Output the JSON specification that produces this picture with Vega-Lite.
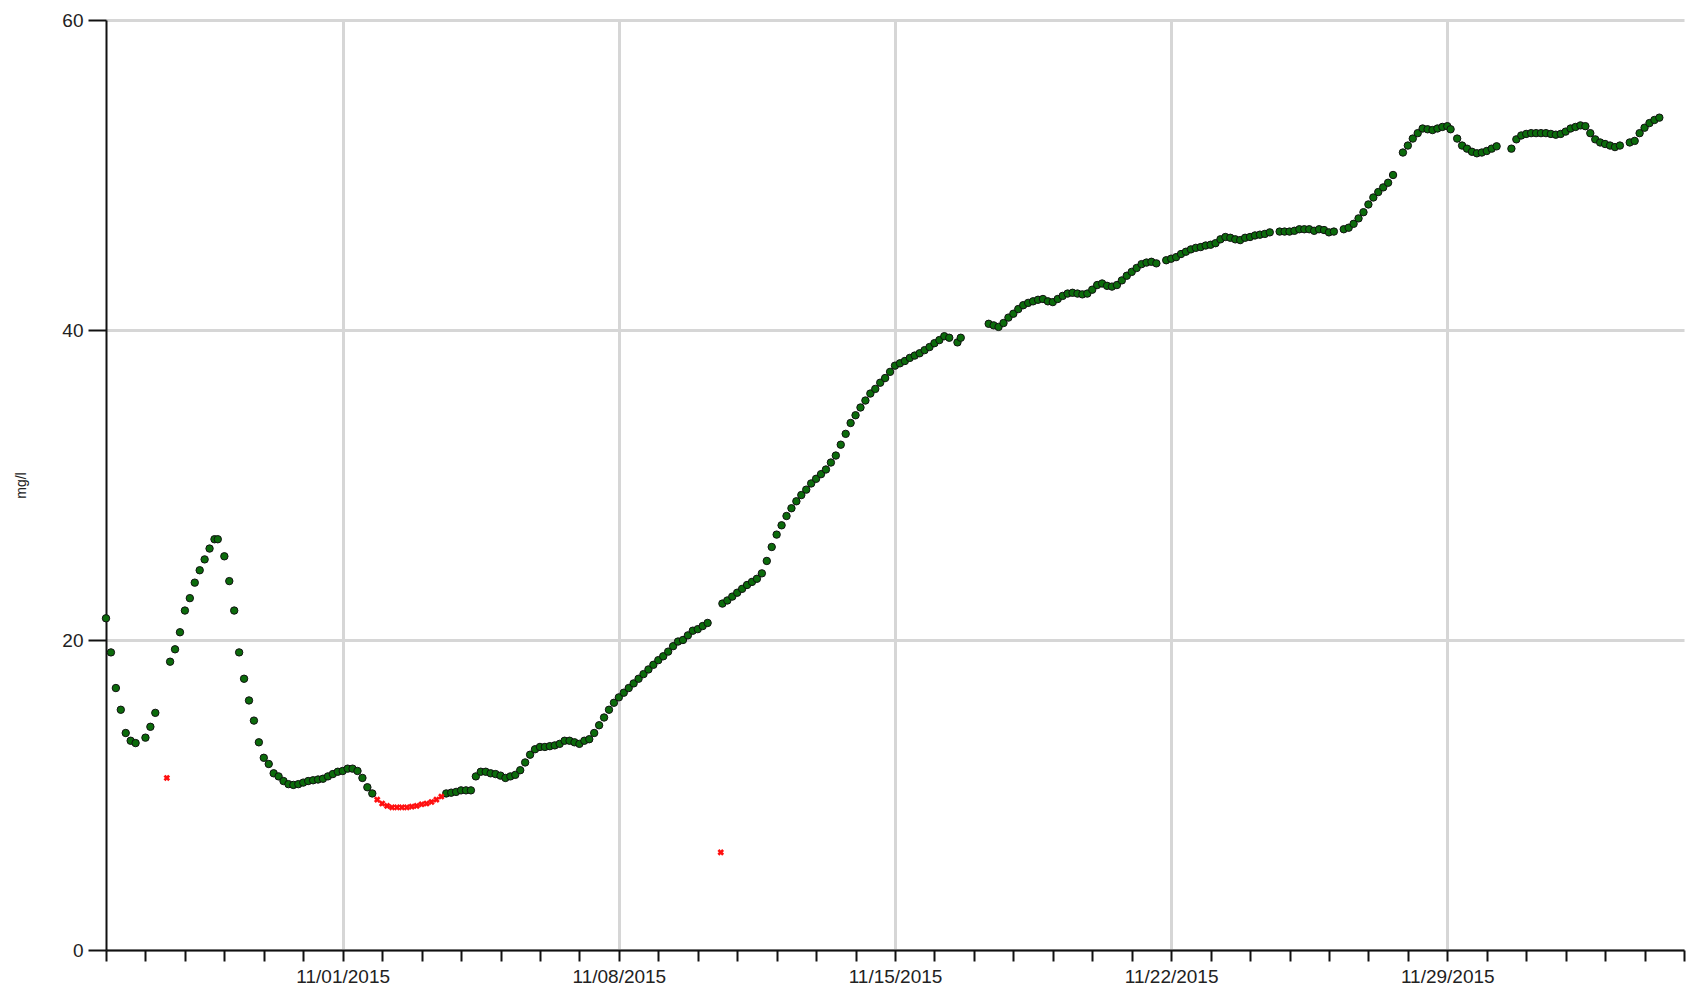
{
  "$schema": "https://vega.github.io/schema/vega-lite/v6.json",
  "autosize": {"type": "none"},
  "padding": {"left": 106, "top": 20, "right": 7, "bottom": 46},
  "width": 1578,
  "height": 930,
  "background": "white",
  "config": {"view": {"stroke": null}, "font": "Liberation Sans"},
  "data": {"values": [
    {"t":"2015-10-26T00:00","v":21.4,"q":"g"},{"t":"2015-10-26T03:00","v":19.2,"q":"g"},{"t":"2015-10-26T06:00","v":16.9,"q":"g"},{"t":"2015-10-26T09:00","v":15.5,"q":"g"},{"t":"2015-10-26T12:00","v":14.0,"q":"g"},{"t":"2015-10-26T15:00","v":13.5,"q":"g"},{"t":"2015-10-26T18:00","v":13.35,"q":"g"},
    {"t":"2015-10-27T00:00","v":13.7,"q":"g"},{"t":"2015-10-27T03:00","v":14.4,"q":"g"},{"t":"2015-10-27T06:00","v":15.3,"q":"g"},{"t":"2015-10-27T13:00","v":11.1,"q":"r"},{"t":"2015-10-27T15:00","v":18.6,"q":"g"},{"t":"2015-10-27T18:00","v":19.4,"q":"g"},{"t":"2015-10-27T21:00","v":20.5,"q":"g"},
    {"t":"2015-10-28T00:00","v":21.9,"q":"g"},{"t":"2015-10-28T03:00","v":22.7,"q":"g"},{"t":"2015-10-28T06:00","v":23.7,"q":"g"},{"t":"2015-10-28T09:00","v":24.5,"q":"g"},{"t":"2015-10-28T12:00","v":25.2,"q":"g"},{"t":"2015-10-28T15:00","v":25.9,"q":"g"},{"t":"2015-10-28T18:00","v":26.5,"q":"g"},{"t":"2015-10-28T20:00","v":26.5,"q":"g"},
    {"t":"2015-10-29T00:00","v":25.4,"q":"g"},{"t":"2015-10-29T03:00","v":23.8,"q":"g"},{"t":"2015-10-29T06:00","v":21.9,"q":"g"},{"t":"2015-10-29T09:00","v":19.2,"q":"g"},{"t":"2015-10-29T12:00","v":17.5,"q":"g"},{"t":"2015-10-29T15:00","v":16.1,"q":"g"},{"t":"2015-10-29T18:00","v":14.8,"q":"g"},{"t":"2015-10-29T21:00","v":13.4,"q":"g"},
    {"t":"2015-10-30T00:00","v":12.4,"q":"g"},{"t":"2015-10-30T03:00","v":12.0,"q":"g"},{"t":"2015-10-30T06:00","v":11.4,"q":"g"},{"t":"2015-10-30T09:00","v":11.2,"q":"g"},{"t":"2015-10-30T12:00","v":10.9,"q":"g"},{"t":"2015-10-30T15:00","v":10.7,"q":"g"},{"t":"2015-10-30T18:00","v":10.65,"q":"g"},{"t":"2015-10-30T21:00","v":10.7,"q":"g"},
    {"t":"2015-10-31T00:00","v":10.8,"q":"g"},{"t":"2015-10-31T03:00","v":10.9,"q":"g"},{"t":"2015-10-31T06:00","v":10.95,"q":"g"},{"t":"2015-10-31T09:00","v":11.0,"q":"g"},{"t":"2015-10-31T12:00","v":11.05,"q":"g"},{"t":"2015-10-31T15:00","v":11.2,"q":"g"},{"t":"2015-10-31T18:00","v":11.35,"q":"g"},{"t":"2015-10-31T21:00","v":11.5,"q":"g"},
    {"t":"2015-11-01T00:00","v":11.55,"q":"g"},{"t":"2015-11-01T03:00","v":11.7,"q":"g"},{"t":"2015-11-01T06:00","v":11.7,"q":"g"},{"t":"2015-11-01T09:00","v":11.55,"q":"g"},{"t":"2015-11-01T12:00","v":11.1,"q":"g"},{"t":"2015-11-01T15:00","v":10.5,"q":"g"},{"t":"2015-11-01T18:00","v":10.1,"q":"g"},{"t":"2015-11-01T21:00","v":9.7,"q":"r"},
    {"t":"2015-11-02T00:00","v":9.45,"q":"r"},{"t":"2015-11-02T03:00","v":9.3,"q":"r"},{"t":"2015-11-02T06:00","v":9.2,"q":"r"},{"t":"2015-11-02T09:00","v":9.2,"q":"r"},{"t":"2015-11-02T12:00","v":9.2,"q":"r"},{"t":"2015-11-02T15:00","v":9.2,"q":"r"},{"t":"2015-11-02T18:00","v":9.25,"q":"r"},{"t":"2015-11-02T21:00","v":9.3,"q":"r"},
    {"t":"2015-11-03T00:00","v":9.4,"q":"r"},{"t":"2015-11-03T03:00","v":9.45,"q":"r"},{"t":"2015-11-03T06:00","v":9.55,"q":"r"},{"t":"2015-11-03T09:00","v":9.7,"q":"r"},{"t":"2015-11-03T12:00","v":9.9,"q":"r"},{"t":"2015-11-03T15:00","v":10.1,"q":"g"},{"t":"2015-11-03T18:00","v":10.15,"q":"g"},{"t":"2015-11-03T21:00","v":10.2,"q":"g"},
    {"t":"2015-11-04T00:00","v":10.3,"q":"g"},{"t":"2015-11-04T03:00","v":10.3,"q":"g"},{"t":"2015-11-04T06:00","v":10.3,"q":"g"},{"t":"2015-11-04T09:00","v":11.2,"q":"g"},{"t":"2015-11-04T12:00","v":11.5,"q":"g"},{"t":"2015-11-04T15:00","v":11.5,"q":"g"},{"t":"2015-11-04T18:00","v":11.4,"q":"g"},{"t":"2015-11-04T21:00","v":11.35,"q":"g"},
    {"t":"2015-11-05T00:00","v":11.25,"q":"g"},{"t":"2015-11-05T03:00","v":11.1,"q":"g"},{"t":"2015-11-05T06:00","v":11.2,"q":"g"},{"t":"2015-11-05T09:00","v":11.3,"q":"g"},{"t":"2015-11-05T12:00","v":11.6,"q":"g"},{"t":"2015-11-05T15:00","v":12.1,"q":"g"},{"t":"2015-11-05T18:00","v":12.6,"q":"g"},{"t":"2015-11-05T21:00","v":12.95,"q":"g"},
    {"t":"2015-11-06T00:00","v":13.1,"q":"g"},{"t":"2015-11-06T03:00","v":13.1,"q":"g"},{"t":"2015-11-06T06:00","v":13.15,"q":"g"},{"t":"2015-11-06T09:00","v":13.2,"q":"g"},{"t":"2015-11-06T12:00","v":13.3,"q":"g"},{"t":"2015-11-06T15:00","v":13.5,"q":"g"},{"t":"2015-11-06T18:00","v":13.5,"q":"g"},{"t":"2015-11-06T21:00","v":13.4,"q":"g"},
    {"t":"2015-11-07T00:00","v":13.3,"q":"g"},{"t":"2015-11-07T03:00","v":13.5,"q":"g"},{"t":"2015-11-07T06:00","v":13.6,"q":"g"},{"t":"2015-11-07T09:00","v":14.0,"q":"g"},{"t":"2015-11-07T12:00","v":14.5,"q":"g"},{"t":"2015-11-07T15:00","v":15.0,"q":"g"},{"t":"2015-11-07T18:00","v":15.5,"q":"g"},{"t":"2015-11-07T21:00","v":15.95,"q":"g"},
    {"t":"2015-11-08T00:00","v":16.3,"q":"g"},{"t":"2015-11-08T03:00","v":16.6,"q":"g"},{"t":"2015-11-08T06:00","v":16.9,"q":"g"},{"t":"2015-11-08T09:00","v":17.2,"q":"g"},{"t":"2015-11-08T12:00","v":17.5,"q":"g"},{"t":"2015-11-08T15:00","v":17.8,"q":"g"},{"t":"2015-11-08T18:00","v":18.1,"q":"g"},{"t":"2015-11-08T21:00","v":18.4,"q":"g"},
    {"t":"2015-11-09T00:00","v":18.7,"q":"g"},{"t":"2015-11-09T03:00","v":18.95,"q":"g"},{"t":"2015-11-09T06:00","v":19.25,"q":"g"},{"t":"2015-11-09T09:00","v":19.6,"q":"g"},{"t":"2015-11-09T12:00","v":19.9,"q":"g"},{"t":"2015-11-09T15:00","v":20.0,"q":"g"},{"t":"2015-11-09T18:00","v":20.3,"q":"g"},{"t":"2015-11-09T21:00","v":20.6,"q":"g"},
    {"t":"2015-11-10T00:00","v":20.7,"q":"g"},{"t":"2015-11-10T03:00","v":20.9,"q":"g"},{"t":"2015-11-10T06:00","v":21.1,"q":"g"},{"t":"2015-11-10T14:00","v":6.3,"q":"r"},{"t":"2015-11-10T15:00","v":22.35,"q":"g"},{"t":"2015-11-10T18:00","v":22.55,"q":"g"},{"t":"2015-11-10T21:00","v":22.8,"q":"g"},
    {"t":"2015-11-11T00:00","v":23.05,"q":"g"},{"t":"2015-11-11T03:00","v":23.3,"q":"g"},{"t":"2015-11-11T06:00","v":23.55,"q":"g"},{"t":"2015-11-11T09:00","v":23.75,"q":"g"},{"t":"2015-11-11T12:00","v":23.95,"q":"g"},{"t":"2015-11-11T15:00","v":24.3,"q":"g"},{"t":"2015-11-11T18:00","v":25.1,"q":"g"},{"t":"2015-11-11T21:00","v":26.0,"q":"g"},
    {"t":"2015-11-12T00:00","v":26.8,"q":"g"},{"t":"2015-11-12T03:00","v":27.4,"q":"g"},{"t":"2015-11-12T06:00","v":28.0,"q":"g"},{"t":"2015-11-12T09:00","v":28.5,"q":"g"},{"t":"2015-11-12T12:00","v":28.95,"q":"g"},{"t":"2015-11-12T15:00","v":29.35,"q":"g"},{"t":"2015-11-12T18:00","v":29.7,"q":"g"},{"t":"2015-11-12T21:00","v":30.1,"q":"g"},
    {"t":"2015-11-13T00:00","v":30.4,"q":"g"},{"t":"2015-11-13T03:00","v":30.7,"q":"g"},{"t":"2015-11-13T06:00","v":31.0,"q":"g"},{"t":"2015-11-13T09:00","v":31.45,"q":"g"},{"t":"2015-11-13T12:00","v":31.9,"q":"g"},{"t":"2015-11-13T15:00","v":32.6,"q":"g"},{"t":"2015-11-13T18:00","v":33.3,"q":"g"},{"t":"2015-11-13T21:00","v":34.0,"q":"g"},
    {"t":"2015-11-14T00:00","v":34.5,"q":"g"},{"t":"2015-11-14T03:00","v":35.0,"q":"g"},{"t":"2015-11-14T06:00","v":35.45,"q":"g"},{"t":"2015-11-14T09:00","v":35.9,"q":"g"},{"t":"2015-11-14T12:00","v":36.2,"q":"g"},{"t":"2015-11-14T15:00","v":36.6,"q":"g"},{"t":"2015-11-14T18:00","v":36.9,"q":"g"},{"t":"2015-11-14T21:00","v":37.3,"q":"g"},
    {"t":"2015-11-15T00:00","v":37.7,"q":"g"},{"t":"2015-11-15T03:00","v":37.85,"q":"g"},{"t":"2015-11-15T06:00","v":38.0,"q":"g"},{"t":"2015-11-15T09:00","v":38.2,"q":"g"},{"t":"2015-11-15T12:00","v":38.35,"q":"g"},{"t":"2015-11-15T15:00","v":38.5,"q":"g"},{"t":"2015-11-15T18:00","v":38.7,"q":"g"},{"t":"2015-11-15T21:00","v":38.9,"q":"g"},
    {"t":"2015-11-16T00:00","v":39.15,"q":"g"},{"t":"2015-11-16T03:00","v":39.35,"q":"g"},{"t":"2015-11-16T06:00","v":39.6,"q":"g"},{"t":"2015-11-16T09:00","v":39.5,"q":"g"},{"t":"2015-11-16T14:00","v":39.2,"q":"g"},{"t":"2015-11-16T16:00","v":39.5,"q":"g"},
    {"t":"2015-11-17T09:00","v":40.4,"q":"g"},{"t":"2015-11-17T12:00","v":40.3,"q":"g"},{"t":"2015-11-17T15:00","v":40.2,"q":"g"},{"t":"2015-11-17T18:00","v":40.45,"q":"g"},{"t":"2015-11-17T21:00","v":40.8,"q":"g"},
    {"t":"2015-11-18T00:00","v":41.05,"q":"g"},{"t":"2015-11-18T03:00","v":41.35,"q":"g"},{"t":"2015-11-18T06:00","v":41.6,"q":"g"},{"t":"2015-11-18T09:00","v":41.75,"q":"g"},{"t":"2015-11-18T12:00","v":41.85,"q":"g"},{"t":"2015-11-18T15:00","v":41.95,"q":"g"},{"t":"2015-11-18T18:00","v":42.0,"q":"g"},{"t":"2015-11-18T21:00","v":41.85,"q":"g"},
    {"t":"2015-11-19T00:00","v":41.8,"q":"g"},{"t":"2015-11-19T03:00","v":42.0,"q":"g"},{"t":"2015-11-19T06:00","v":42.2,"q":"g"},{"t":"2015-11-19T09:00","v":42.35,"q":"g"},{"t":"2015-11-19T12:00","v":42.4,"q":"g"},{"t":"2015-11-19T15:00","v":42.35,"q":"g"},{"t":"2015-11-19T18:00","v":42.3,"q":"g"},{"t":"2015-11-19T21:00","v":42.35,"q":"g"},
    {"t":"2015-11-20T00:00","v":42.6,"q":"g"},{"t":"2015-11-20T03:00","v":42.9,"q":"g"},{"t":"2015-11-20T06:00","v":43.0,"q":"g"},{"t":"2015-11-20T09:00","v":42.85,"q":"g"},{"t":"2015-11-20T12:00","v":42.8,"q":"g"},{"t":"2015-11-20T15:00","v":42.9,"q":"g"},{"t":"2015-11-20T18:00","v":43.2,"q":"g"},{"t":"2015-11-20T21:00","v":43.5,"q":"g"},
    {"t":"2015-11-21T00:00","v":43.75,"q":"g"},{"t":"2015-11-21T03:00","v":44.0,"q":"g"},{"t":"2015-11-21T06:00","v":44.25,"q":"g"},{"t":"2015-11-21T09:00","v":44.35,"q":"g"},{"t":"2015-11-21T12:00","v":44.4,"q":"g"},{"t":"2015-11-21T15:00","v":44.3,"q":"g"},{"t":"2015-11-21T21:00","v":44.5,"q":"g"},
    {"t":"2015-11-22T00:00","v":44.6,"q":"g"},{"t":"2015-11-22T03:00","v":44.7,"q":"g"},{"t":"2015-11-22T06:00","v":44.9,"q":"g"},{"t":"2015-11-22T09:00","v":45.05,"q":"g"},{"t":"2015-11-22T12:00","v":45.2,"q":"g"},{"t":"2015-11-22T15:00","v":45.3,"q":"g"},{"t":"2015-11-22T18:00","v":45.35,"q":"g"},{"t":"2015-11-22T21:00","v":45.45,"q":"g"},
    {"t":"2015-11-23T00:00","v":45.5,"q":"g"},{"t":"2015-11-23T03:00","v":45.6,"q":"g"},{"t":"2015-11-23T06:00","v":45.85,"q":"g"},{"t":"2015-11-23T09:00","v":46.0,"q":"g"},{"t":"2015-11-23T12:00","v":45.95,"q":"g"},{"t":"2015-11-23T15:00","v":45.85,"q":"g"},{"t":"2015-11-23T18:00","v":45.8,"q":"g"},{"t":"2015-11-23T21:00","v":45.95,"q":"g"},
    {"t":"2015-11-24T00:00","v":46.0,"q":"g"},{"t":"2015-11-24T03:00","v":46.1,"q":"g"},{"t":"2015-11-24T06:00","v":46.15,"q":"g"},{"t":"2015-11-24T09:00","v":46.2,"q":"g"},{"t":"2015-11-24T12:00","v":46.3,"q":"g"},{"t":"2015-11-24T18:00","v":46.35,"q":"g"},{"t":"2015-11-24T21:00","v":46.35,"q":"g"},
    {"t":"2015-11-25T00:00","v":46.35,"q":"g"},{"t":"2015-11-25T03:00","v":46.4,"q":"g"},{"t":"2015-11-25T06:00","v":46.5,"q":"g"},{"t":"2015-11-25T09:00","v":46.5,"q":"g"},{"t":"2015-11-25T12:00","v":46.5,"q":"g"},{"t":"2015-11-25T15:00","v":46.4,"q":"g"},{"t":"2015-11-25T18:00","v":46.5,"q":"g"},{"t":"2015-11-25T21:00","v":46.45,"q":"g"},
    {"t":"2015-11-26T00:00","v":46.3,"q":"g"},{"t":"2015-11-26T03:00","v":46.35,"q":"g"},{"t":"2015-11-26T09:00","v":46.5,"q":"g"},{"t":"2015-11-26T12:00","v":46.6,"q":"g"},{"t":"2015-11-26T15:00","v":46.85,"q":"g"},{"t":"2015-11-26T18:00","v":47.2,"q":"g"},{"t":"2015-11-26T21:00","v":47.6,"q":"g"},
    {"t":"2015-11-27T00:00","v":48.1,"q":"g"},{"t":"2015-11-27T03:00","v":48.55,"q":"g"},{"t":"2015-11-27T06:00","v":48.9,"q":"g"},{"t":"2015-11-27T09:00","v":49.2,"q":"g"},{"t":"2015-11-27T12:00","v":49.5,"q":"g"},{"t":"2015-11-27T15:00","v":50.0,"q":"g"},{"t":"2015-11-27T21:00","v":51.45,"q":"g"},
    {"t":"2015-11-28T00:00","v":51.9,"q":"g"},{"t":"2015-11-28T03:00","v":52.35,"q":"g"},{"t":"2015-11-28T06:00","v":52.7,"q":"g"},{"t":"2015-11-28T09:00","v":53.0,"q":"g"},{"t":"2015-11-28T12:00","v":52.95,"q":"g"},{"t":"2015-11-28T15:00","v":52.9,"q":"g"},{"t":"2015-11-28T18:00","v":53.0,"q":"g"},{"t":"2015-11-28T21:00","v":53.1,"q":"g"},
    {"t":"2015-11-29T00:00","v":53.15,"q":"g"},{"t":"2015-11-29T02:00","v":52.95,"q":"g"},{"t":"2015-11-29T06:00","v":52.35,"q":"g"},{"t":"2015-11-29T09:00","v":51.9,"q":"g"},{"t":"2015-11-29T12:00","v":51.7,"q":"g"},{"t":"2015-11-29T15:00","v":51.5,"q":"g"},{"t":"2015-11-29T18:00","v":51.4,"q":"g"},{"t":"2015-11-29T21:00","v":51.45,"q":"g"},
    {"t":"2015-11-30T00:00","v":51.55,"q":"g"},{"t":"2015-11-30T03:00","v":51.7,"q":"g"},{"t":"2015-11-30T06:00","v":51.85,"q":"g"},{"t":"2015-11-30T15:00","v":51.7,"q":"g"},{"t":"2015-11-30T18:00","v":52.3,"q":"g"},{"t":"2015-11-30T21:00","v":52.55,"q":"g"},
    {"t":"2015-12-01T00:00","v":52.65,"q":"g"},{"t":"2015-12-01T03:00","v":52.7,"q":"g"},{"t":"2015-12-01T06:00","v":52.7,"q":"g"},{"t":"2015-12-01T09:00","v":52.7,"q":"g"},{"t":"2015-12-01T12:00","v":52.7,"q":"g"},{"t":"2015-12-01T15:00","v":52.65,"q":"g"},{"t":"2015-12-01T18:00","v":52.6,"q":"g"},{"t":"2015-12-01T21:00","v":52.65,"q":"g"},
    {"t":"2015-12-02T00:00","v":52.8,"q":"g"},{"t":"2015-12-02T03:00","v":53.0,"q":"g"},{"t":"2015-12-02T06:00","v":53.1,"q":"g"},{"t":"2015-12-02T09:00","v":53.2,"q":"g"},{"t":"2015-12-02T12:00","v":53.15,"q":"g"},{"t":"2015-12-02T15:00","v":52.7,"q":"g"},{"t":"2015-12-02T18:00","v":52.3,"q":"g"},{"t":"2015-12-02T21:00","v":52.1,"q":"g"},
    {"t":"2015-12-03T00:00","v":52.0,"q":"g"},{"t":"2015-12-03T03:00","v":51.9,"q":"g"},{"t":"2015-12-03T06:00","v":51.8,"q":"g"},{"t":"2015-12-03T09:00","v":51.9,"q":"g"},{"t":"2015-12-03T15:00","v":52.1,"q":"g"},{"t":"2015-12-03T18:00","v":52.2,"q":"g"},{"t":"2015-12-03T21:00","v":52.7,"q":"g"},
    {"t":"2015-12-04T00:00","v":53.05,"q":"g"},{"t":"2015-12-04T03:00","v":53.35,"q":"g"},{"t":"2015-12-04T06:00","v":53.55,"q":"g"},{"t":"2015-12-04T09:00","v":53.7,"q":"g"}
  ]},
  "encoding": {
    "x": {
      "field": "t", "type": "temporal",
      "scale": {"domain": ["2015-10-26T00:00", "2015-12-05T00:00"], "nice": false},
      "axis": {
        "title": null,
        "tickCount": {"interval": "day", "step": 1},
        "labelExpr": "day(datum.value) == 0 ? timeFormat(datum.value, '%m/%d/%Y') : ''",
        "labelOverlap": false,
        "labelFont": "Liberation Sans", "labelFontSize": 19, "labelColor": "#222222",
        "labelPadding": 6, "labelFlush": false,
        "tickSize": 11, "tickColor": "#111111", "tickWidth": 2,
        "domainColor": "#111111", "domainWidth": 2,
        "grid": true, "gridColor": "#d6d6d6", "gridWidth": 3,
        "gridOpacity": {"condition": {"test": "day(datum.value) == 0", "value": 1}, "value": 0}
      }
    },
    "y": {
      "field": "v", "type": "quantitative",
      "scale": {"domain": [0, 60], "nice": false, "zero": true},
      "axis": {
        "title": "mg/l", "titleFont": "Liberation Sans", "titleFontSize": 14, "titleFontWeight": "normal", "titleColor": "#222222",
        "titleAngle": -90, "titleX": -85, "titleY": 465, "titleAlign": "center", "titleBaseline": "middle",
        "values": [0, 20, 40, 60],
        "labelFont": "Liberation Sans", "labelFontSize": 19, "labelColor": "#222222", "labelPadding": 5,
        "tickSize": 18, "tickColor": "#111111", "tickWidth": 2,
        "domainColor": "#111111", "domainWidth": 2,
        "grid": true, "gridColor": "#d6d6d6", "gridWidth": 3
      }
    }
  },
  "layer": [
    {
      "transform": [{"filter": "datum.q == 'g'"}],
      "mark": {"type": "point", "shape": "circle", "filled": true, "fill": "#0b6b0b", "stroke": "#111111", "strokeWidth": 1, "size": 55, "opacity": 1}
    },
    {
      "transform": [{"filter": "datum.q == 'r'"}],
      "mark": {"type": "point", "shape": "cross", "angle": 45, "filled": true, "fill": "#ff1010", "stroke": null, "size": 45, "opacity": 1}
    }
  ]
}
